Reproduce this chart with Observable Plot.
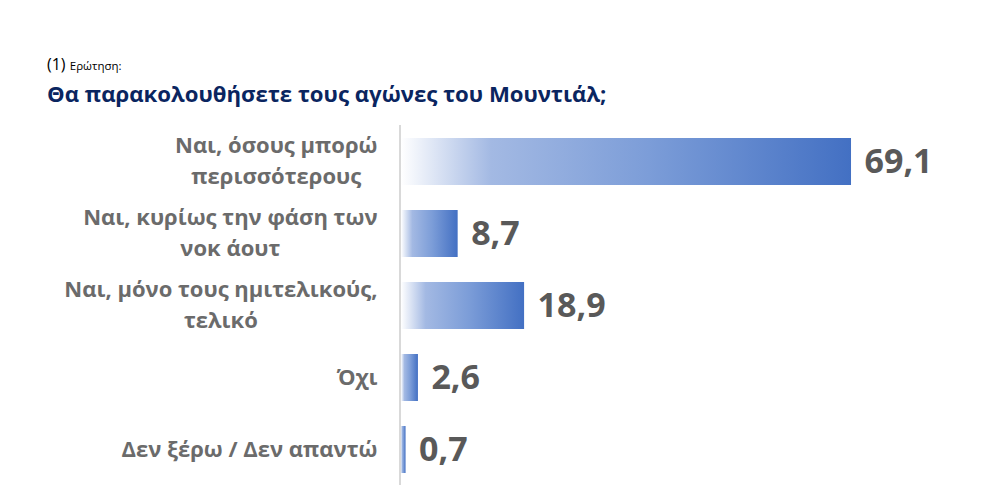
<!DOCTYPE html>
<html>
<head>
<meta charset="utf-8">
<script src="https://cdn.jsdelivr.net/npm/d3@7"></script>
<script src="https://cdn.jsdelivr.net/npm/@observablehq/plot@0.6"></script>
<style>
  body { margin: 0; background: #fff; font-family: "Open Sans", sans-serif; }
  #wrap { width: 989px; height: 495px; position: relative; overflow: hidden; }
  #q { position: absolute; left: 47px; top: 56px; color: #000; font-size: 16px; line-height: 1; }
  #q small { font-size: 11.5px; }
  #title { position: absolute; left: 47px; top: 81px; color: #0a2560; font-size: 22.2px; font-weight: 700; line-height: 1.2; margin: 0; }
  #chart { position: absolute; left: 0; top: 120px; }
</style>
</head>
<body>
<div id="wrap">
  <div id="q">(1) <small>Ερώτηση:</small></div>
  <h1 id="title">Θα παρακολουθήσετε τους αγώνες του Μουντιάλ;</h1>
  <div id="chart"></div>
</div>
<script>
const categories = [
  "Ναι, όσους μπορώ\nπερισσότερους",
  "Ναι, κυρίως την φάση των\nνοκ άουτ",
  "Ναι, μόνο τους ημιτελικούς,\nτελικό",
  "Όχι",
  "Δεν ξέρω / Δεν απαντώ"
];
const values = [69.1, 8.7, 18.9, 2.6, 0.7];

const data = categories.map((c, i) => ({category: c, value: values[i], label: values[i].toFixed(1).replace(".", ",")}));

const labelFont = "700 22px 'Open Sans'";
const ctx = document.createElement("canvas").getContext("2d");
ctx.font = labelFont;
const blockWidth = c => Math.max(...c.split("\n").map(s => ctx.measureText(s).width));

const gradient = () => {
  const defs = d3.create("svg:defs");
  const g = defs.append("linearGradient").attr("id", "barGrad").attr("x1", 0).attr("x2", 1).attr("y1", 0).attr("y2", 0);
  [[0, "#ffffff"], [0.2, "#a3b9e3"], [0.55, "#7c9dd8"], [1, "#4370c3"]]
    .forEach(([o, c]) => g.append("stop").attr("offset", o).attr("stop-color", c));
  return defs.node();
};

const labelMarks = data.map(d => Plot.text([d], {
  x: () => 0, y: "category", text: "category",
  textAnchor: "middle", lineHeight: 1.4,
  dx: -24 - blockWidth(d.category) / 2, dy: -3,
  fill: "#6b6b6b", fontSize: 22, fontWeight: 700
}));

const chart = Plot.plot({
  width: 989,
  height: 375,
  marginLeft: 401,
  marginRight: 67,
  marginTop: 5,
  marginBottom: 10,
  style: {fontFamily: "'Open Sans', sans-serif", background: "transparent"},
  x: {domain: [0, 80], axis: null},
  y: {domain: categories, axis: null, paddingInner: 0.35, paddingOuter: 0.175},
  marks: [
    gradient,
    Plot.ruleX([0], {stroke: "#d9d9d9", strokeWidth: 2, dx: -1.5}),
    Plot.barX(data, {x: "value", y: "category", fill: "url(#barGrad)"}),
    Plot.text(data, {x: "value", y: "category", text: "label", textAnchor: "start", dx: 13,
      fill: "#595959", fontSize: 34, fontWeight: 700}),
    ...labelMarks
  ]
});
document.getElementById("chart").appendChild(chart);
</script>
</body>
</html>
